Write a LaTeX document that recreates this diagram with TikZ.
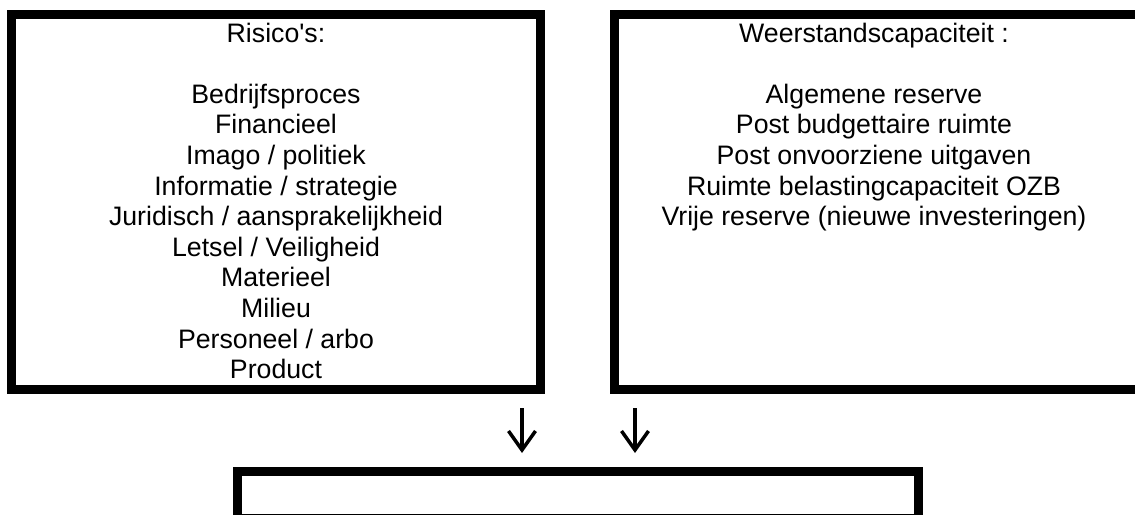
\documentclass[tikz,border=0pt]{standalone}
\usepackage{fontspec}
\setmainfont{Liberation Sans}[Ligatures=TeXOff]
\usetikzlibrary{arrows.meta}
\begin{document}
\begin{tikzpicture}[x=1pt,y=-1pt,
  frame/.style={draw=black,line width=9pt,fill=none,inner sep=0pt},
  listtext/.style={align=center,anchor=base,inner sep=0pt,font=\fontsize{26.7}{30.6}\selectfont},
  downarrow/.style={line width=3.5pt,-{Straight Barb[length=19pt,width=27pt]}}]
\useasboundingbox (0,0) rectangle (1135,514);
\begin{scope}
\clip (0,0) rectangle (1135,514);
\node[frame,minimum width=529pt,minimum height=375pt] (left) at (276,202) {};
\node[frame,minimum width=530pt,minimum height=375pt] (right) at (879.5,202) {};
\node[frame,minimum width=681pt,minimum height=47pt] (bottom) at (578,495) {};
\end{scope}
\node[listtext] (lt) at (276,378.6) {Risico's:\\ \mbox{}\\ Bedrijfsproces\\ Financieel\\ Imago / politiek\\ Informatie / strategie\\ Juridisch / aansprakelijkheid\\ Letsel / Veiligheid\\ Materieel\\ Milieu\\ Personeel / arbo\\ Product};
\node[listtext] (rt) at (874,225.6) {Weerstandscapaciteit :\\ \mbox{}\\ Algemene reserve\\ Post budgettaire ruimte\\ Post onvoorziene uitgaven\\ Ruimte belastingcapaciteit OZB\\ Vrije reserve (nieuwe investeringen)};
\coordinate (a1s) at (522,408);
\coordinate (a1e) at (522,453);
\coordinate (a2s) at (635,408);
\coordinate (a2e) at (635,453);
\draw[downarrow] (a1s) -- (a1e);
\draw[downarrow] (a2s) -- (a2e);
\end{tikzpicture}
\end{document}
